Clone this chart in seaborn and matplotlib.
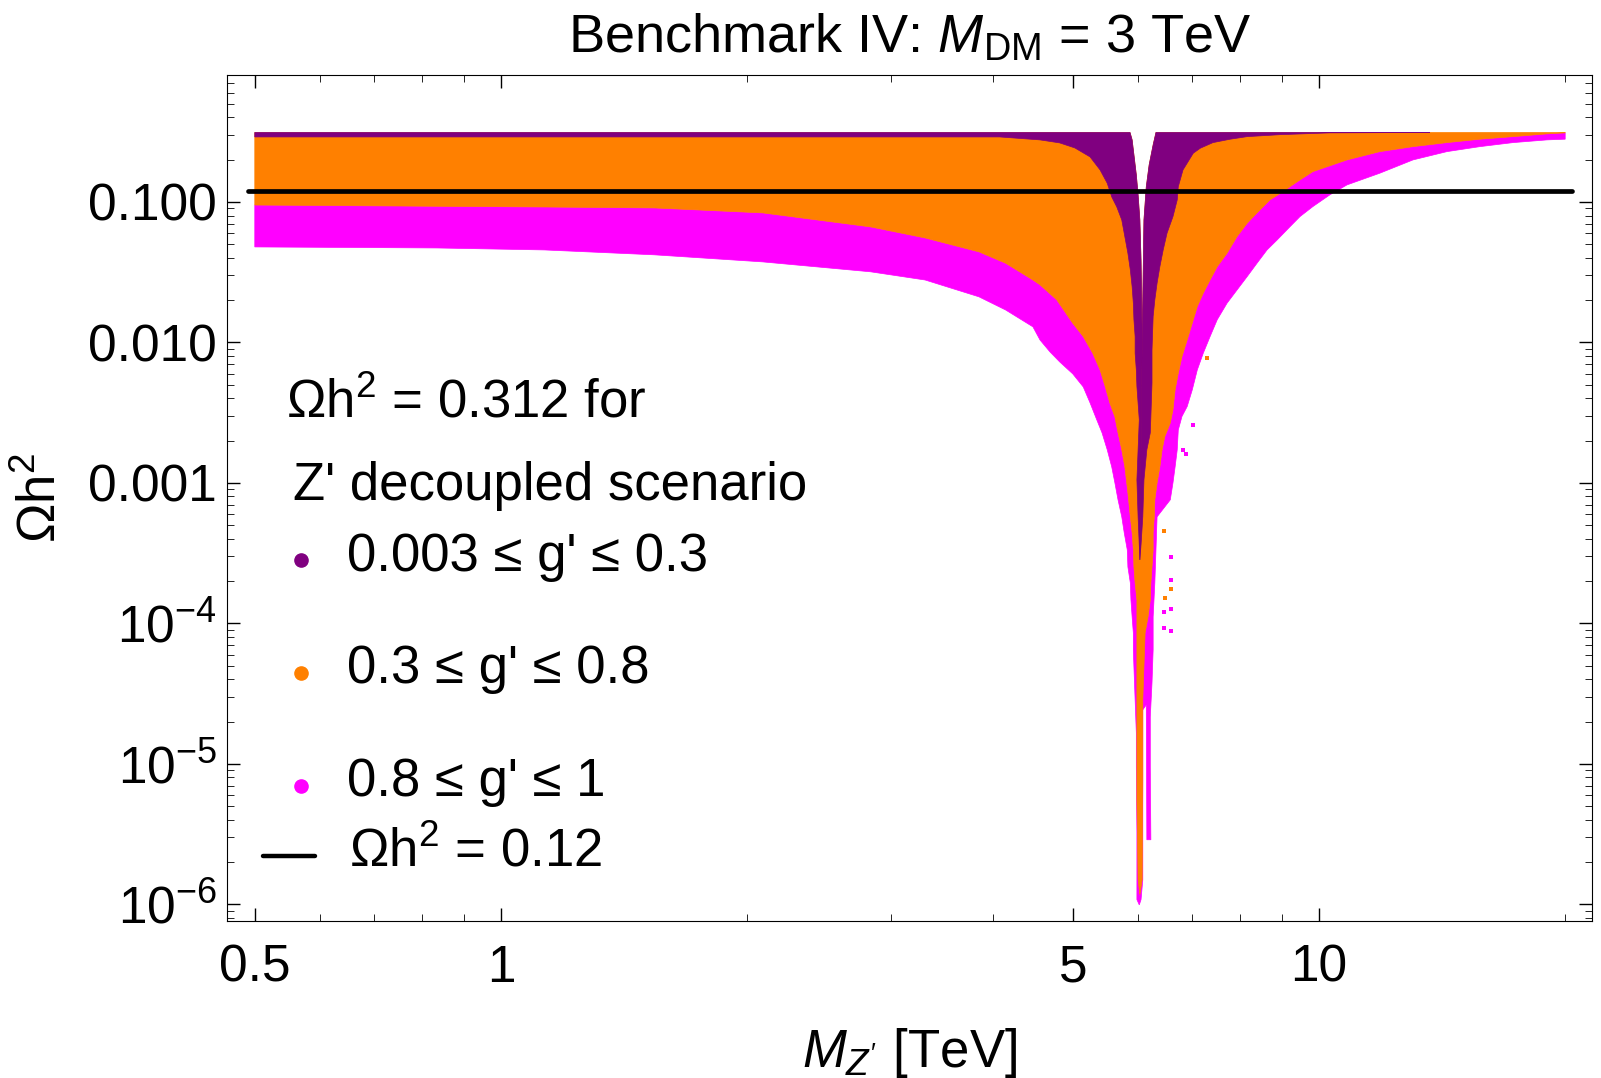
import matplotlib
matplotlib.use('Agg')
import matplotlib.pyplot as plt
from matplotlib.ticker import FixedLocator, FixedFormatter, LogLocator, NullFormatter
import seaborn as sns

# values (M_Z' in TeV, relic density Omega h^2)
omega_top = 0.312      # decoupled value, upper edge of every band
omega_strip = 0.29     # lower edge of the thin purple strip
omega_planck = 0.12
planck_m = [0.49, 20.4]

# orange / magenta boundary, left branch (M = 0.5 down into the dip)
oL_m = [0.5, 1.13, 1.54, 2.09, 2.83, 3.30, 3.84, 4.14, 4.47, 4.56, 4.78, 5.00, 5.15, 5.29,
        5.40, 5.48, 5.55, 5.63, 5.68, 5.74, 5.79, 5.84, 5.88, 5.91, 5.93, 5.94, 5.96, 5.99]
oL_y = [0.095, 0.092, 0.0906, 0.0835, 0.0664, 0.0554, 0.0441, 0.0366, 0.0278, 0.0257, 0.0201,
        0.0137, 0.0110, 0.00837, 0.00637, 0.00482, 0.00371, 0.00295, 0.00227, 0.00172, 0.00130,
        0.000849, 0.000573, 0.000441, 0.000333, 0.000252, 0.000194, 0.000147]

# orange points at the very bottom of the resonance
oT_m = [5.99, 5.99, 6.01, 6.04, 6.08, 6.09, 6.09]
oT_y = [2.85e-5, 5.5e-6, 1.5e-6, 1.17e-6, 1.5e-6, 7.7e-6, 2.85e-5]

# orange / magenta boundary, right branch (dip up to M = 20)
oR_m = [6.13, 6.18, 6.22, 6.23, 6.25, 6.27, 6.27, 6.29, 6.30, 6.34, 6.39, 6.43, 6.48, 6.58,
        6.63, 6.67, 6.73, 6.80, 6.90, 7.00, 7.10, 7.22, 7.36, 7.51, 7.72, 7.94, 8.17, 8.40,
        8.71, 9.04, 9.22, 9.48, 9.83, 10.82, 11.87, 13.03, 14.34, 15.73, 17.27, 19.0, 20.0]
oR_y = [8.56e-5, 1.11e-4, 1.47e-4, 1.94e-4, 2.52e-4, 3.33e-4, 4.41e-4, 5.73e-4, 7.57e-4, 1.0e-3,
        1.30e-3, 1.72e-3, 2.14e-3, 2.67e-3, 3.31e-3, 4.59e-3, 6.04e-3, 7.92e-3, 0.0104, 0.0137,
        0.0180, 0.0224, 0.0278, 0.0346, 0.0431, 0.0566, 0.0705, 0.0835, 0.1033, 0.1184, 0.1285,
        0.1434, 0.1643, 0.199, 0.228, 0.2474, 0.2643, 0.2795, 0.2915, 0.305, 0.310]

# magenta outer edge, left branch
mL_m = [0.5, 0.835, 1.13, 1.54, 2.09, 2.83, 3.30, 3.84, 4.14, 4.47, 4.56, 4.69, 4.82, 5.00,
        5.15, 5.25, 5.35, 5.43, 5.51, 5.58, 5.63, 5.68, 5.74, 5.78, 5.83, 5.84, 5.88, 5.89,
        5.91, 5.93, 5.93, 5.94, 5.96, 5.98, 5.98, 5.99, 5.99, 6.03]
mL_y = [0.0478, 0.047, 0.0455, 0.042, 0.0374, 0.0318, 0.0278, 0.0211, 0.017, 0.0129, 0.0104,
        0.00855, 0.00726, 0.00597, 0.00482, 0.00371, 0.00281, 0.00227, 0.00172, 0.0013, 0.001,
        7.57e-4, 5.73e-4, 4.41e-4, 3.33e-4, 2.52e-4, 1.94e-4, 1.47e-4, 1.11e-4, 8.56e-5, 6.48e-5,
        4.9e-5, 2.85e-5, 1.66e-5, 9.5e-6, 3.23e-6, 1.08e-6, 0.99e-6]

# magenta outer edge, right branch (bottom of the dip up to M = 20)
mR_m = [6.06, 6.09, 6.09, 6.15, 6.16, 6.23, 6.22, 6.22, 6.25, 6.27, 6.27, 6.30, 6.32, 6.34,
        6.58, 6.63, 6.67, 6.71, 6.73, 6.80, 6.90, 7.00, 7.10, 7.22, 7.36, 7.51, 7.72, 7.94,
        8.17, 8.40, 8.64, 8.89, 9.22, 9.48, 9.83, 10.31, 10.82, 11.87, 13.03, 14.34, 15.73,
        17.27, 19.0, 20.0]
mR_y = [1.08e-6, 1.49e-6, 2.42e-5, 2.63e-5, 2.88e-6, 2.88e-6, 9.5e-6, 2.16e-5, 3.77e-5, 6.48e-5,
        1.11e-4, 1.94e-4, 3.33e-4, 5.73e-4, 7.57e-4, 1.0e-3, 1.30e-3, 1.72e-3, 2.38e-3, 2.97e-3,
        3.49e-3, 4.59e-3, 6.37e-3, 8.37e-3, 0.011, 0.0145, 0.019, 0.0236, 0.0294, 0.0366, 0.0455,
        0.0536, 0.0667, 0.0786, 0.0926, 0.1122, 0.1321, 0.1601, 0.199, 0.228, 0.2474, 0.2643,
        0.2763, 0.2795]

# purple outer edge, left branch (strip, then down to the tip)
pL_m = [0.5, 4.07, 4.56, 4.82, 5.03, 5.25, 5.40, 5.51, 5.58, 5.66, 5.74, 5.79, 5.84, 5.88,
        5.91, 5.93, 5.94, 5.96, 5.96, 5.98, 5.99, 6.01, 6.03, 6.01, 5.99, 6.01, 6.04]
pL_y = [omega_strip, omega_strip, 0.2763, 0.263, 0.2422, 0.2091, 0.1689, 0.1358, 0.1086, 0.0921,
        0.0744, 0.0566, 0.0431, 0.0328, 0.0249, 0.019, 0.0145, 0.011, 0.00837, 0.00637, 0.00485,
        0.00369, 0.00281, 0.00172, 0.00105, 5.73e-4, 2.83e-4]

# purple outer edge, right branch (end of the strip down to the tip)
pR_m = [13.67, 10.31, 8.96, 8.17, 7.79, 7.42, 7.16, 7.02, 6.90, 6.82, 6.73, 6.71, 6.63, 6.52,
        6.45, 6.39, 6.34, 6.30, 6.27, 6.25, 6.25, 6.23, 6.22, 6.16, 6.11, 6.09, 6.06, 6.04]
pR_y = [omega_top, 0.310, 0.301, 0.2915, 0.2795, 0.2643, 0.2411, 0.2221, 0.1886, 0.1689, 0.1285,
        0.1033, 0.0786, 0.0599, 0.0455, 0.0346, 0.0264, 0.0201, 0.0153, 0.00884, 0.00515,
        0.00295, 0.00227, 0.00172, 0.00105, 5.73e-4, 3.62e-4, 2.83e-4]

# empty gap between the two purple branches
gapL_m = [5.875, 5.91, 5.94, 5.98, 6.01, 6.04, 6.06, 6.07, 6.08]
gapL_y = [omega_top, 0.2763, 0.216, 0.1557, 0.1122, 0.0744, 0.0387, 0.0201, 0.0104]
gapR_m = [6.08, 6.09, 6.10, 6.11, 6.15, 6.20, 6.27, 6.32]
gapR_y = [0.0104, 0.0201, 0.0387, 0.0744, 0.1279, 0.1834, 0.2544, omega_top]

# isolated points right of the resonance
stray_mag_m = [7.01, 6.82, 6.88, 6.59, 6.59, 6.59, 6.46, 6.46, 6.59]
stray_mag_y = [2.59e-3, 1.7e-3, 1.61e-3, 2.99e-4, 2.04e-4, 1.27e-4, 1.21e-4, 9.3e-5, 8.85e-5]
stray_org_m = [7.29, 6.59, 6.48, 6.46]
stray_org_y = [7.8e-3, 1.76e-4, 1.52e-4, 4.55e-4]

x_ticks = [0.5, 1, 5, 10]
x_ticklabels = ['0.5', '1', '5', '10']
y_ticks = [1e-6, 1e-5, 1e-4, 1e-3, 1e-2, 1e-1]
y_ticklabels = ['$10^{-6}$', '$10^{-5}$', '$10^{-4}$', '0.001', '0.010', '0.100']

legend_labels = ["0.003 \u2264 g' \u2264 0.3", "0.3 \u2264 g' \u2264 0.8", "0.8 \u2264 g' \u2264 1"]

purple = '#800080'
orange = '#ff8000'
magenta = '#ff00ff'

sns.set_theme(style='ticks')
plt.rcParams['font.family'] = ['Liberation Sans', 'DejaVu Sans']
plt.rcParams['mathtext.fontset'] = 'custom'
plt.rcParams['mathtext.rm'] = 'Liberation Sans'
plt.rcParams['mathtext.it'] = 'Liberation Sans:italic'
plt.rcParams['mathtext.bf'] = 'Liberation Sans:bold'
plt.rcParams['text.color'] = 'black'
plt.rcParams['axes.labelcolor'] = 'black'
plt.rcParams['xtick.color'] = 'black'
plt.rcParams['ytick.color'] = 'black'

fig = plt.figure(figsize=(16.01, 10.78), dpi=100)
ax = fig.add_axes([0.1418, 0.1456, 0.8526, 0.7848])
ax.set_xscale('log')
ax.set_yscale('log')

# magenta band: outer edges below, orange boundary above
mag_x = mL_m + mR_m + oR_m[::-1] + oL_m[::-1]
mag_y = mL_y + mR_y + oR_y[::-1] + oL_y[::-1]
ax.fill(mag_x, mag_y, color=magenta, lw=0.5, zorder=1)

# orange band: from the top down to the magenta boundary, minus the central gap
org_x = [0.5] + gapL_m + gapR_m + [20.0] + oR_m[::-1] + oT_m[::-1] + oL_m[::-1]
org_y = [omega_top] + gapL_y + gapR_y + [omega_top] + oR_y[::-1] + oT_y[::-1] + oL_y[::-1]
ax.fill(org_x, org_y, color=orange, lw=0.5, zorder=2)

# purple band, left and right of the gap
pl_x = [0.5] + gapL_m + pL_m[::-1]
pl_y = [omega_top] + gapL_y + pL_y[::-1]
ax.fill(pl_x, pl_y, color=purple, lw=0.5, zorder=3)
pr_x = pR_m + gapR_m
pr_y = pR_y + gapR_y
ax.fill(pr_x, pr_y, color=purple, lw=0.5, zorder=3)

sns.scatterplot(x=stray_mag_m, y=stray_mag_y, color=magenta, marker='s', s=6,
                linewidth=0, ax=ax, zorder=2.5)
sns.scatterplot(x=stray_org_m, y=stray_org_y, color=orange, marker='s', s=6,
                linewidth=0, ax=ax, zorder=2.5)

sns.lineplot(x=planck_m, y=[omega_planck] * len(planck_m), color='black', linewidth=3.4,
             ax=ax, zorder=5)

ax.set_xlim(0.4624, 21.57)
ax.set_ylim(7.6e-7, 0.80)

ax.xaxis.set_major_locator(FixedLocator(x_ticks))
ax.xaxis.set_major_formatter(FixedFormatter(x_ticklabels))
ax.xaxis.set_minor_locator(LogLocator(base=10, subs=range(2, 10), numticks=50))
ax.xaxis.set_minor_formatter(NullFormatter())
ax.yaxis.set_major_locator(FixedLocator(y_ticks))
ax.yaxis.set_major_formatter(FixedFormatter(y_ticklabels))
ax.yaxis.set_minor_locator(LogLocator(base=10, subs=range(2, 10), numticks=50))
ax.yaxis.set_minor_formatter(NullFormatter())

ax.tick_params(which='both', direction='in', top=True, right=True, colors='black')
ax.tick_params(which='major', length=9.4, width=1.0)
ax.tick_params(which='minor', length=4.7, width=0.6)
ax.tick_params(axis='x', which='major', labelsize=37, pad=16.5)
ax.tick_params(axis='y', which='major', labelsize=37, pad=7.4)
for s in ax.spines.values():
    s.set_linewidth(0.8)
    s.set_color('black')
    s.set_visible(True)

ax.set_title(r'Benchmark IV: $M_{\mathrm{DM}}$ = 3 TeV', fontsize=39, pad=16, color='black')
ax.set_xlabel(r"$M_{Z'}$ [TeV]", fontsize=38, labelpad=24, color='black')
ax.set_ylabel('\u03a9h$^2$', fontsize=38, labelpad=15, color='black')

# legend, written out the way the original lays it out
tr = ax.transAxes
ax.text(0.0432, 0.5957, '\u03a9h$^2$ = 0.312 for', transform=tr, fontsize=38,
        ha='left', va='baseline', color='black', zorder=6)
ax.text(0.0484, 0.4976, "Z' decoupled scenario", transform=tr, fontsize=38,
        ha='left', va='baseline', color='black', zorder=6)
marker_y = [0.4267, 0.2931, 0.1596]
text_y = [0.4137, 0.2809, 0.1478]
for c, lab, my, ty in zip([purple, orange, magenta], legend_labels, marker_y, text_y):
    ax.plot([0.0542], [my], marker='o', ms=9.5, color=c, mec=c, transform=tr, zorder=6)
    ax.text(0.0879, ty, lab, transform=tr, fontsize=38, ha='left', va='baseline',
            color='black', zorder=6)
ax.plot([0.0264, 0.0645], [0.0768, 0.0768], color='black', lw=3.2, transform=tr, zorder=6)
ax.text(0.0894, 0.0650, '\u03a9h$^2$ = 0.12', transform=tr, fontsize=38,
        ha='left', va='baseline', color='black', zorder=6)

fig.savefig('out.png', dpi=100)
